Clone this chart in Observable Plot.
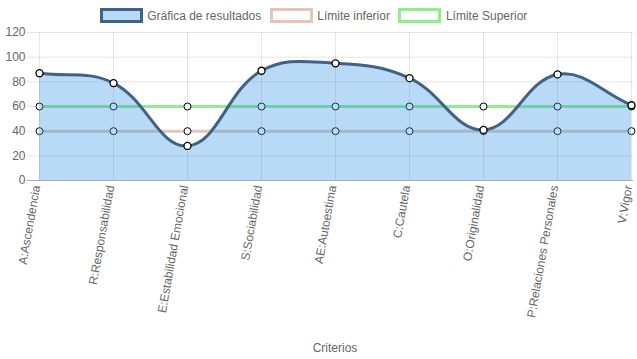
<!DOCTYPE html>
<html><head><meta charset="utf-8">
<script src="https://cdn.jsdelivr.net/npm/d3@7"></script>
<script src="https://cdn.jsdelivr.net/npm/@observablehq/plot@0.6"></script>
<style>
body{margin:0;background:#fff;font-family:"Liberation Sans",Arial,Helvetica,sans-serif;}
#legend{height:24px;display:flex;justify-content:center;align-items:flex-start;box-sizing:border-box;padding-right:10px;overflow:visible;position:relative;z-index:1;}
.item{display:flex;align-items:center;margin:8px 4.25px 0;font-size:12px;color:#666;height:15px;}
.box{width:37px;height:9px;border:3px solid;margin-right:4.5px;}
#chart svg{display:block;}
</style></head><body>
<div id="legend"></div><div id="chart"></div>
<script>
const categories = ["A:Ascendencia","R:Responsabilidad","E:Estabilidad Emocional","S:Sociabilidad","AE:Autoestima","C:Cautela","O:Originalidad","P:Relaciones Personales","V:Vigor"];
const resultados = [87,79,28,89,95,83,41,86,61];
const limiteInferior = [40,40,40,40,40,40,40,40,40];
const limiteSuperior = [60,60,60,60,60,60,60,60,60];
const yTicks = [0,20,40,60,80,100,120];
const seriesNames = ["Gráfica de resultados","Límite inferior","Límite Superior"];
const xTitle = "Criterios";

const mainStroke = "rgb(64,98,132)";
const mainFill = "rgba(52,149,229,0.35)";
const loStroke = "rgb(230,198,184)";
const hiStroke = "rgb(144,238,144)";

// legend
const legend = document.getElementById("legend");
[[mainFill, mainStroke],["#fff", loStroke],["#fff", hiStroke]].forEach(([f,s],i)=>{
  const it = document.createElement("div"); it.className="item";
  const b = document.createElement("div"); b.className="box"; b.style.background=f; b.style.borderColor=s;
  const t = document.createElement("span"); t.textContent = seriesNames[i];
  it.appendChild(b); it.appendChild(t); legend.appendChild(it);
});

const W = 637, H = 335, mL = 36, mR = 4, mT = 8, mB = 179;
const bounds = {left:mL, right:W-mR, top:mT, bottom:H-mB};

function chartjsCurve(bd, tension){
  return function(context){
    let pts = [], line = NaN;
    const cl = (v,a,b)=>Math.max(a,Math.min(b,v));
    return {
      areaStart(){ line = 0; },
      areaEnd(){ line = NaN; },
      lineStart(){ pts = []; },
      point(x,y){ pts.push([+x,+y]); },
      lineEnd(){
        const n = pts.length;
        if (n) {
          if (line) context.lineTo(pts[0][0], pts[0][1]); else context.moveTo(pts[0][0], pts[0][1]);
          const cps = pts.map((p,i)=>{
            const pr = pts[i-1] || p, nx = pts[i+1] || p;
            const d01 = Math.hypot(p[0]-pr[0], p[1]-pr[1]);
            const d12 = Math.hypot(nx[0]-p[0], nx[1]-p[1]);
            let s01 = d01/(d01+d12), s12 = d12/(d01+d12);
            if (!isFinite(s01)) s01 = 0; if (!isFinite(s12)) s12 = 0;
            const fa = tension*s01, fb = tension*s12;
            return {
              prev:[cl(p[0]-fa*(nx[0]-pr[0]),bd.left,bd.right), cl(p[1]-fa*(nx[1]-pr[1]),bd.top,bd.bottom)],
              next:[cl(p[0]+fb*(nx[0]-pr[0]),bd.left,bd.right), cl(p[1]+fb*(nx[1]-pr[1]),bd.top,bd.bottom)]
            };
          });
          for (let i=1;i<n;i++) context.bezierCurveTo(cps[i-1].next[0],cps[i-1].next[1],cps[i].prev[0],cps[i].prev[1],pts[i][0],pts[i][1]);
        }
        if (line || (line !== 0 && n === 1)) context.closePath();
        line = 1 - line;
      }
    };
  };
}
const curve = chartjsCurve(bounds, 0.4);

const data = categories.map((c,i)=>({c, r:resultados[i], lo:limiteInferior[i], hi:limiteSuperior[i]}));

const chart = Plot.plot({
  width:W, height:H, marginLeft:mL, marginRight:mR, marginTop:mT, marginBottom:mB,
  style:{fontFamily:'"Liberation Sans",Arial,sans-serif', fontSize:"12px", color:"#666", background:"white"},
  x:{type:"point", domain:categories, padding:0},
  y:{domain:[0,120]},
  marks:[
    Plot.gridY(yTicks,{stroke:"#000", strokeOpacity:0.1}),
    Plot.gridX(categories,{stroke:"#000", strokeOpacity:0.1}),
    Plot.ruleY([0],{stroke:"#000", strokeOpacity:0.25, insetLeft:-9}),
    Plot.line(data,{x:"c", y:"lo", stroke:loStroke, strokeWidth:3}),
    Plot.line(data,{x:"c", y:"hi", stroke:hiStroke, strokeWidth:3}),
    Plot.dot(data,{x:"c", y:"lo", r:3.5, fill:"white", stroke:"black", strokeWidth:1}),
    Plot.dot(data,{x:"c", y:"hi", r:3.5, fill:"white", stroke:"black", strokeWidth:1}),
    Plot.areaY(data,{x:"c", y:"r", fill:"rgb(52,149,229)", fillOpacity:0.35, curve}),
    Plot.line(data,{x:"c", y:"r", stroke:mainStroke, strokeWidth:3, curve}),
    Plot.dot(data,{x:"c", y:"r", r:3.5, fill:"white", stroke:"black", strokeWidth:1.3}),
    Plot.axisY(yTicks,{tickSize:9, tickPadding:2, stroke:"#000", strokeOpacity:0.1, fill:"#666", fontSize:12, label:null}),
    Plot.axisX({tickSize:0, tickRotate:-80, tickPadding:5, dx:-3, fill:"#666", fontSize:12, label:null}),
    Plot.text([xTitle],{frameAnchor:"bottom", dy:171, fill:"#666", fontSize:12})
  ]
});
document.getElementById("chart").appendChild(chart);
</script>
</body></html>
